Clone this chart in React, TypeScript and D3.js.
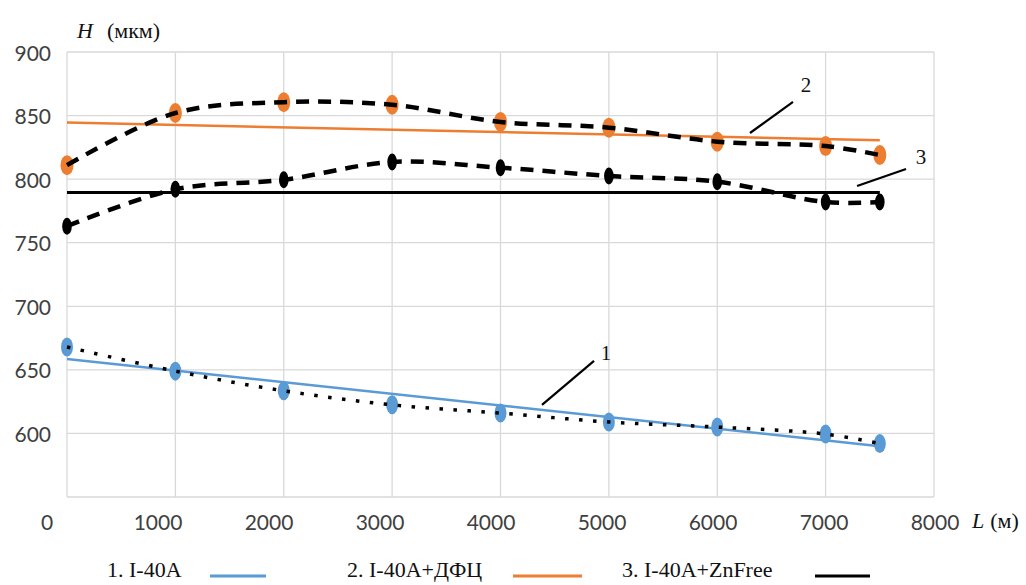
import React from "react";
import * as d3 from "d3";

const L = [0, 1000, 2000, 3000, 4000, 5000, 6000, 7000, 7500];
const H1 = [668, 649, 633.5, 622.5, 616, 609, 605, 599.5, 592];
const H2 = [811, 852, 860.5, 858.5, 845, 840.5, 829.5, 826, 819];
const H3 = [763, 792, 799.5, 813.5, 809, 802.5, 798, 782, 782];

const trendL = [0, 7500];
const trend1 = [658.5, 590];
const trend2 = [844.5, 830.5];
const trend3 = [789.5, 789.5];

const xTicks = [0, 1000, 2000, 3000, 4000, 5000, 6000, 7000, 8000];
const yTicks = [550, 600, 650, 700, 750, 800, 850, 900];
const yTickLabels = [600, 650, 700, 750, 800, 850, 900];

const legendNames = ["1. I-40A", "2. I-40A+ДФЦ", "3. I-40A+ZnFree"];
const colors = ["#5B9BD5", "#ED7D31", "#000000"];

const annLabels = ["1", "2", "3"];
const annText: [number, number][] = [[4974, 663], [6819, 874], [7880, 817.5]];
const annFrom: [number, number][] = [[4863, 657], [6699, 860.7], [7742, 808]];
const annTo: [number, number][] = [[4383, 622.4], [6302, 836.3], [7290, 794.6]];

export default function App() {
  const x = d3.scaleLinear().domain([0, 8000]).range([67, 934]);
  const y = d3.scaleLinear().domain([550, 900]).range([497, 52]);
  const xLab = d3.scaleLinear().domain([0, 8000]).range([47, 935]);

  const curve = d3
    .line<[number, number]>()
    .x((d) => x(d[0]))
    .y((d) => y(d[1]))
    .curve(d3.curveCatmullRom.alpha(0.5));
  const straight = d3
    .line<[number, number]>()
    .x((d) => x(d[0]))
    .y((d) => y(d[1]));

  const pts = (hs: number[]) => L.map((l, i) => [l, hs[i]] as [number, number]);
  const tpts = (hs: number[]) => trendL.map((l, i) => [l, hs[i]] as [number, number]);

  const serif = "'Liberation Serif', 'Times New Roman', serif";
  const sans = "Lato, 'Liberation Sans', sans-serif";

  const legendX = [107, 347, 622];
  const legendLine = [[210, 266], [513, 582], [815, 870]];

  return (
    <svg
      width={1026}
      height={585}
      style={{ position: "absolute", left: 0, top: 0, background: "#fff" }}
    >
      <rect x={0} y={0} width={1026} height={585} fill="#fff" />
      {yTicks.map((t) => (
        <line key={"gy" + t} x1={x(0)} x2={x(8000)} y1={y(t)} y2={y(t)} stroke="#d9d9d9" strokeWidth={1.3} />
      ))}
      {xTicks.map((t) => (
        <line key={"gx" + t} x1={x(t)} x2={x(t)} y1={y(550)} y2={y(900)} stroke="#d9d9d9" strokeWidth={1.3} />
      ))}
      {yTickLabels.map((t) => (
        <text key={"ly" + t} x={51} y={y(t)} textAnchor="end" dominantBaseline="central" fontFamily={sans} fontSize={21} fill="#404040">
          {t}
        </text>
      ))}
      {xTicks.map((t) => (
        <text key={"lx" + t} x={xLab(t)} y={521} textAnchor="middle" dominantBaseline="central" fontFamily={sans} fontSize={21} fill="#404040">
          {t}
        </text>
      ))}
      <text x={77} y={30} dominantBaseline="central" fontFamily={serif} fontSize={22} fill="#111">
        <tspan fontStyle="italic">H</tspan>
        <tspan dx={14}>(мкм)</tspan>
      </text>
      <text x={972} y={520} dominantBaseline="central" fontFamily={serif} fontSize={22} fill="#111">
        <tspan fontStyle="italic">L</tspan>
        <tspan dx={6}>(м)</tspan>
      </text>
      <path d={straight(tpts(trend1)) || ""} stroke={colors[0]} strokeWidth={2.5} fill="none" />
      <path d={straight(tpts(trend2)) || ""} stroke={colors[1]} strokeWidth={2.5} fill="none" />
      <path d={straight(tpts(trend3)) || ""} stroke={colors[2]} strokeWidth={3} fill="none" />
      {pts(H1).map((p, i) => (
        <ellipse key={"m1" + i} cx={x(p[0])} cy={y(p[1])} rx={6} ry={9.5} fill={colors[0]} />
      ))}
      {pts(H2).map((p, i) => (
        <ellipse key={"m2" + i} cx={x(p[0])} cy={y(p[1])} rx={6.5} ry={10} fill={colors[1]} />
      ))}
      {pts(H3).map((p, i) => (
        <ellipse key={"m3" + i} cx={x(p[0])} cy={y(p[1])} rx={4.8} ry={8.5} fill="#000" />
      ))}
      <path d={curve(pts(H1)) || ""} stroke="#000" strokeWidth={3.5} strokeDasharray="3.5 10.5" fill="none" />
      <path d={curve(pts(H2)) || ""} stroke="#000" strokeWidth={4.5} strokeDasharray="13 9" fill="none" />
      <path d={curve(pts(H3)) || ""} stroke="#000" strokeWidth={4.5} strokeDasharray="13 9" fill="none" />
      {annLabels.map((lab, i) => (
        <g key={"a" + i}>
          <line x1={x(annFrom[i][0])} y1={y(annFrom[i][1])} x2={x(annTo[i][0])} y2={y(annTo[i][1])} stroke="#000" strokeWidth={2.2} />
          <text x={x(annText[i][0])} y={y(annText[i][1])} textAnchor="middle" dominantBaseline="central" fontFamily={serif} fontSize={21} fill="#111">
            {lab}
          </text>
        </g>
      ))}
      {legendNames.map((n, i) => (
        <g key={"lg" + i}>
          <text x={legendX[i]} y={577} fontFamily={serif} fontSize={22} fill="#111">
            {n}
          </text>
          <line x1={legendLine[i][0]} x2={legendLine[i][1]} y1={576} y2={576} stroke={colors[i]} strokeWidth={3} />
        </g>
      ))}
    </svg>
  );
}
